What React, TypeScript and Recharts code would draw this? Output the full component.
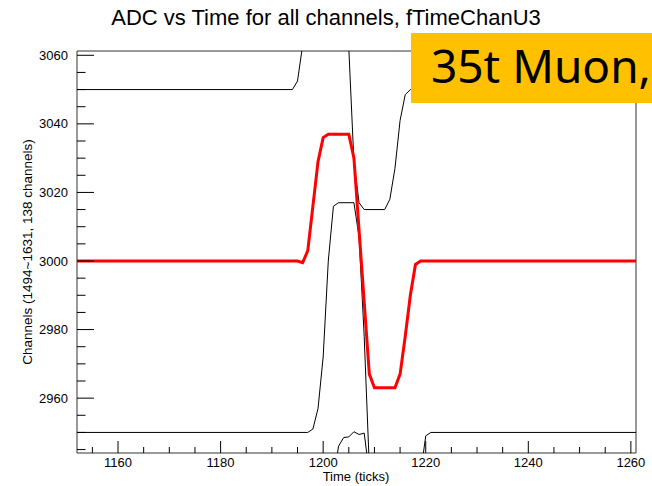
import React from "react"
import { LineChart, Line, XAxis, YAxis, ReferenceArea } from "recharts"

type Pt = { t: number; v: number }

// time axis (ticks) and ADC+offset axis
const xDomain: [number, number] = [1152, 1261]
const yDomain: [number, number] = [2944, 3061.25]
const xTicks = [1155, 1160, 1165, 1170, 1175, 1180, 1185, 1190, 1195, 1200, 1205, 1210, 1215, 1220, 1225, 1230, 1235, 1240, 1245, 1250, 1255, 1260]
const xLabels = [1160, 1180, 1200, 1220, 1240, 1260]
const yTicks = [2945, 2950, 2955, 2960, 2965, 2970, 2975, 2980, 2985, 2990, 2995, 3000, 3005, 3010, 3015, 3020, 3025, 3030, 3035, 3040, 3045, 3050, 3055, 3060]
const yLabels = [2960, 2980, 3000, 3020, 3040, 3060]

// highlighted channel (offset 3000)
const chanRed: Pt[] = [
  { t: 1152, v: 3000 }, { t: 1195, v: 3000 }, { t: 1196, v: 2999.5 }, { t: 1197, v: 3003 },
  { t: 1198, v: 3016 }, { t: 1199, v: 3029 }, { t: 1200, v: 3036 }, { t: 1201, v: 3037 },
  { t: 1205, v: 3037 }, { t: 1206, v: 3030 }, { t: 1207, v: 3009 }, { t: 1208, v: 2988 },
  { t: 1209, v: 2967 }, { t: 1210, v: 2963 }, { t: 1214, v: 2963 }, { t: 1215, v: 2967 },
  { t: 1216, v: 2978 }, { t: 1217, v: 2990 }, { t: 1218, v: 2999 }, { t: 1219, v: 3000 },
  { t: 1261, v: 3000 },
]

// neighbour channels (offsets 3050, 2950, 2900)
const chanUp: Pt[] = [
  { t: 1152, v: 3050 }, { t: 1194, v: 3050 }, { t: 1195, v: 3052.5 }, { t: 1196, v: 3063 },
  { t: 1197, v: 3085 }, { t: 1198, v: 3102 }, { t: 1203, v: 3104 }, { t: 1204, v: 3090 },
  { t: 1205, v: 3062 }, { t: 1206, v: 3029 }, { t: 1207, v: 3017 }, { t: 1208, v: 3015 },
  { t: 1212, v: 3015 }, { t: 1213, v: 3018 }, { t: 1214, v: 3027 }, { t: 1215, v: 3041 },
  { t: 1216, v: 3048.5 }, { t: 1217, v: 3050 }, { t: 1261, v: 3050 },
]

const chanDown: Pt[] = [
  { t: 1152, v: 2950 }, { t: 1197, v: 2950 }, { t: 1198, v: 2951 }, { t: 1199, v: 2957 },
  { t: 1200, v: 2972 }, { t: 1201, v: 3000 }, { t: 1202, v: 3016 }, { t: 1203, v: 3017 },
  { t: 1206, v: 3017 }, { t: 1207, v: 3007 }, { t: 1208, v: 2978 }, { t: 1209, v: 2940 },
  { t: 1210, v: 2905 }, { t: 1212, v: 2890 }, { t: 1216, v: 2900 }, { t: 1218, v: 2925 },
  { t: 1219, v: 2938 }, { t: 1220, v: 2949 }, { t: 1221, v: 2950 }, { t: 1261, v: 2950 },
]

const chanLow: Pt[] = [
  { t: 1152, v: 2900 }, { t: 1197, v: 2900 }, { t: 1198, v: 2905 }, { t: 1200, v: 2920 },
  { t: 1202, v: 2936 }, { t: 1203, v: 2946 }, { t: 1204, v: 2948.5 }, { t: 1205, v: 2948.7 },
  { t: 1206, v: 2950.2 }, { t: 1207, v: 2949.4 }, { t: 1208, v: 2949.8 }, { t: 1209, v: 2938 },
  { t: 1210, v: 2880 }, { t: 1214, v: 2870 }, { t: 1220, v: 2895 }, { t: 1224, v: 2900 },
  { t: 1261, v: 2900 },
]

const FONT = "'Liberation Sans', Arial, Helvetica, sans-serif"

// ROOT-style ticks: drawn inward from the frame, labels outside
const renderXTick = (props: any) => {
  const { x, y, payload } = props
  const major = xLabels.includes(payload.value)
  return (
    <g key={`xt-${payload.value}`}>
      <line x1={x} y1={y} x2={x} y2={y - (major ? 12 : 6)} stroke="#000" strokeWidth={1} />
      {major && (
        <text x={x} y={y + 14} textAnchor="middle" fontSize={13} fontFamily={FONT} fill="#000">
          {payload.value}
        </text>
      )}
    </g>
  )
}

const renderYTick = (props: any) => {
  const { x, y, payload } = props
  const major = yLabels.includes(payload.value)
  return (
    <g key={`yt-${payload.value}`}>
      <line x1={x} y1={y} x2={x + (major ? 17 : 8.5)} y2={y} stroke="#000" strokeWidth={1} />
      {major && (
        <text x={x - 9} y={y} dy="0.35em" textAnchor="end" fontSize={13} fontFamily={FONT} fill="#000">
          {payload.value}
        </text>
      )}
    </g>
  )
}

export default function App() {
  return (
    <div style={{ position: "absolute", left: 0, top: 0, width: 652, height: 486, background: "#fff", overflow: "hidden" }}>
      <LineChart width={652} height={486} margin={{ top: 51, right: 16, bottom: 0, left: 0 }}>
        <XAxis
          type="number" dataKey="t" domain={xDomain} allowDataOverflow ticks={xTicks}
          height={33} tickSize={0} tickMargin={0} tickLine={false} axisLine={false}
          tick={renderXTick} interval={0}
        />
        <YAxis
          type="number" domain={yDomain} allowDataOverflow ticks={yTicks}
          width={77} tickSize={0} tickMargin={0} tickLine={false} axisLine={false}
          tick={renderYTick} interval={0}
        />
        <ReferenceArea x1={xDomain[0]} x2={xDomain[1]} y1={yDomain[0]} y2={yDomain[1]}
          fill="none" stroke="#333" strokeWidth={1} ifOverflow="visible" />
        <Line data={chanUp} dataKey="v" type="linear" stroke="#000" strokeWidth={1} dot={false} isAnimationActive={false} />
        <Line data={chanDown} dataKey="v" type="linear" stroke="#000" strokeWidth={1} dot={false} isAnimationActive={false} />
        <Line data={chanLow} dataKey="v" type="linear" stroke="#000" strokeWidth={1} dot={false} isAnimationActive={false} />
        <Line data={chanRed} dataKey="v" type="linear" stroke="#ff0000" strokeWidth={3} dot={false} isAnimationActive={false} />
      </LineChart>
      <svg width={652} height={486} style={{ position: "absolute", left: 0, top: 0, pointerEvents: "none" }}>
        <text x={326} y={25} textAnchor="middle" fontSize={22} fontFamily={FONT} fill="#000">
          ADC vs Time for all channels, fTimeChanU3
        </text>
        <text x={356} y={481} textAnchor="middle" fontSize={13} fontFamily={FONT} fill="#000">
          Time (ticks)
        </text>
        <text x={32} y={252} textAnchor="middle" fontSize={13.5} fontFamily={FONT} fill="#000" transform="rotate(-90 32 252)">
          Channels (1494~1631, 138 channels)
        </text>
        <rect x={411} y={33} width={241} height={70} fill="#ffc000" />
        <text x={431} y={83} fontSize={46} fontFamily="'Noto Sans', 'Open Sans', sans-serif" fill="#000">
          35t Muon,
        </text>
      </svg>
    </div>
  )
}
